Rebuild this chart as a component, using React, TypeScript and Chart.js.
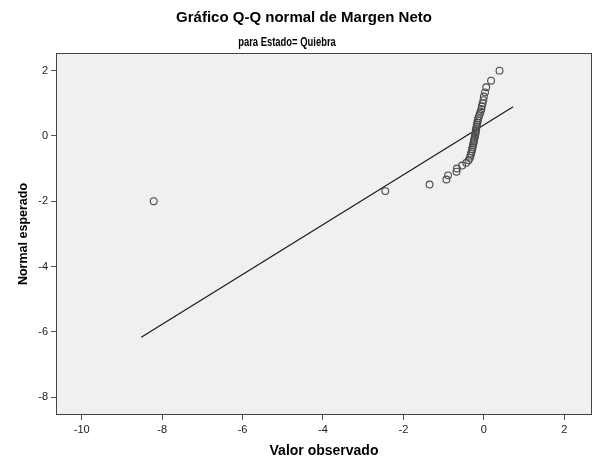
import React, { useEffect, useRef } from "react";
import Chart from "chart.js/auto";

const chartTitle = "Gráfico Q-Q normal de Margen Neto";
const chartSubtitle = "para Estado= Quiebra";
const xAxisTitle = "Valor observado";
const yAxisTitle = "Normal esperado";

const xTicks = [-10, -8, -6, -4, -2, 0, 2];
const yTicks = [-8, -6, -4, -2, 0, 2];

// Observed values (x), sorted
const observedValues = [
  -8.21, -2.45, -1.35, -0.93, -0.89, -0.68, -0.67, -0.54, -0.44, -0.38,
  -0.35, -0.33, -0.32, -0.3, -0.29, -0.28, -0.27, -0.26, -0.25, -0.24,
  -0.23, -0.22, -0.21, -0.2, -0.2, -0.19, -0.18, -0.17, -0.16, -0.15,
  -0.14, -0.12, -0.1, -0.08, -0.06, -0.05, -0.03, -0.01, 0.0, 0.03,
  0.06, 0.18, 0.39,
];

// Expected normal values (y)
const expectedNormal = [
  -2.0, -1.691, -1.49, -1.335, -1.208, -1.097, -0.998, -0.908, -0.825, -0.748,
  -0.674, -0.605, -0.538, -0.473, -0.41, -0.349, -0.289, -0.23, -0.172, -0.114,
  -0.057, 0.0, 0.057, 0.114, 0.172, 0.23, 0.289, 0.349, 0.41, 0.473,
  0.538, 0.605, 0.674, 0.748, 0.825, 0.908, 0.998, 1.097, 1.208, 1.335,
  1.49, 1.691, 2.0,
];

// Reference line end points
const refLineX = [-8.52, 0.73];
const refLineY = [-6.17, 0.89];

const xRange = [-10.64, 2.69];
const yRange = [-8.55, 2.54];

const decorPlugin = {
  id: "decor",
  beforeDraw(chart: any) {
    const { ctx, chartArea } = chart;
    ctx.save();
    ctx.fillStyle = "#ffffff";
    ctx.fillRect(0, 0, chart.width, chart.height);
    ctx.fillStyle = "#f0f0f0";
    ctx.fillRect(chartArea.left, chartArea.top, chartArea.right - chartArea.left, chartArea.bottom - chartArea.top);
    ctx.restore();
  },
  afterDraw(chart: any) {
    const { ctx, chartArea } = chart;
    ctx.save();
    ctx.strokeStyle = "#444444";
    ctx.lineWidth = 1;
    ctx.strokeRect(
      Math.round(chartArea.left) + 0.5,
      Math.round(chartArea.top) + 0.5,
      Math.round(chartArea.right - chartArea.left) - 1,
      Math.round(chartArea.bottom - chartArea.top) - 1
    );
    ctx.fillStyle = "#000000";
    ctx.textAlign = "center";
    ctx.textBaseline = "middle";
    ctx.font = "bold 15px 'Liberation Sans', Arial, sans-serif";
    ctx.fillText(chartTitle, 304, 18);
    ctx.font = "bold 12px 'Liberation Sans', Arial, sans-serif";
    ctx.translate(287, 43);
    ctx.scale(0.785, 1);
    ctx.fillText(chartSubtitle, 0, 0);
    ctx.restore();
  },
};

export default function App() {
  const canvasRef = useRef<HTMLCanvasElement | null>(null);

  useEffect(() => {
    document.body.style.margin = "0";
    const canvas = canvasRef.current;
    if (!canvas) return;
    const points = observedValues.map((x, i) => ({ x, y: expectedNormal[i] }));
    const linePts = refLineX.map((x, i) => ({ x, y: refLineY[i] }));
    const tickFont = { family: "'Liberation Sans', Arial, sans-serif", size: 11 };
    const titleFont = { family: "'Liberation Sans', Arial, sans-serif", size: 12, weight: "bold" as const };

    const chart = new Chart(canvas, {
      type: "scatter",
      data: {
        datasets: [
          {
            type: "line",
            data: linePts,
            borderColor: "#1a1a1a",
            borderWidth: 1.2,
            pointRadius: 0,
            fill: false,
            order: 2,
          },
          {
            data: points,
            pointStyle: "circle",
            pointRadius: 3.4,
            borderWidth: 1.1,
            borderColor: "#4a4a4a",
            backgroundColor: "rgba(0,0,0,0)",
            order: 1,
          },
        ],
      },
      plugins: [decorPlugin],
      options: {
        animation: false,
        responsive: false,
        events: [],
        layout: { padding: { top: 53, right: 10, left: 0, bottom: 0 } },
        plugins: {
          legend: { display: false },
          tooltip: { enabled: false },
          title: { display: false },
        },
        scales: {
          x: {
            type: "linear",
            min: xRange[0],
            max: xRange[1],
            afterBuildTicks: (scale: any) => {
              scale.ticks = xTicks.map((v) => ({ value: v }));
            },
            afterFit: (scale: any) => {
              scale.height = 47;
            },
            ticks: {
              autoSkip: false,
              maxRotation: 0,
              padding: 3,
              color: "#1a1a1a",
              font: tickFont,
              callback: (v: any) => String(v),
            },
            grid: {
              drawOnChartArea: false,
              drawTicks: true,
              tickLength: 5,
              color: "#555555",
            },
            border: { display: false },
            title: {
              display: true,
              text: xAxisTitle,
              color: "#000000",
              font: { ...titleFont, size: 14 },
              padding: { top: 0, bottom: 2 },
            },
          },
          y: {
            type: "linear",
            min: yRange[0],
            max: yRange[1],
            afterBuildTicks: (scale: any) => {
              scale.ticks = yTicks.map((v) => ({ value: v }));
            },
            afterFit: (scale: any) => {
              scale.width = 56;
            },
            ticks: {
              autoSkip: false,
              padding: 3,
              color: "#1a1a1a",
              font: tickFont,
              callback: (v: any) => String(v),
            },
            grid: {
              drawOnChartArea: false,
              drawTicks: true,
              tickLength: 5,
              color: "#555555",
            },
            border: { display: false },
            title: {
              display: true,
              text: yAxisTitle,
              color: "#000000",
              font: { ...titleFont, size: 12.5 },
              padding: { top: 16, bottom: 0 },
            },
          },
        },
      },
    });
    return () => chart.destroy();
  }, []);

  return (
    <div style={{ width: 602, height: 462 }}>
      <canvas ref={canvasRef} width={602} height={462} style={{ display: "block" }} />
    </div>
  );
}
